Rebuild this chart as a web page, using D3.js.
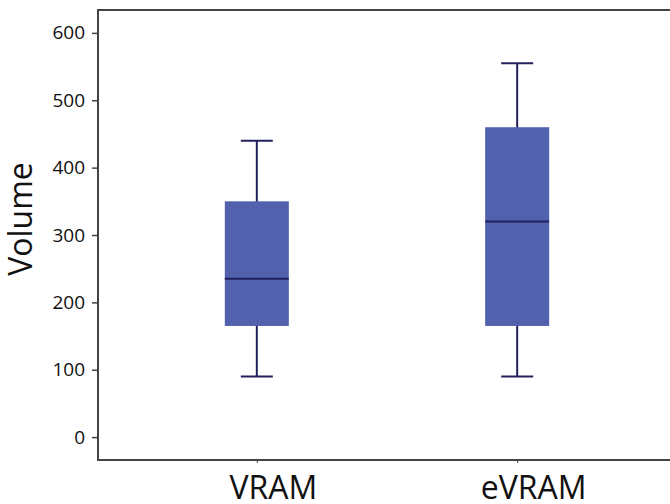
<!DOCTYPE html>
<html>
<head>
<meta charset="UTF-8">
<script src="https://d3js.org/d3.v7.min.js"></script>
<style>
body { margin: 0; background: #fff; }
svg { display: block; }
</style>
</head>
<body>
<script>
// box plot data
var groups = ["VRAM", "eVRAM"];
var whiskerLow = [90, 90];
var q1 = [165, 165];
var median = [235, 320];
var q3 = [350, 460];
var whiskerHigh = [440, 555];
var yTicks = [0, 100, 200, 300, 400, 500, 600];

var width = 670, height = 504;
var plotLeft = 98, plotTop = 10, plotBottom = 460;

var svg = d3.select("body").append("svg")
    .attr("width", width)
    .attr("height", height)
    .style("font-family", "'Open Sans', 'Noto Sans', sans-serif");

var y = d3.scaleLinear().domain([-34, 634]).range([plotBottom, plotTop]);
var x = d3.scalePoint().domain(groups).range([plotLeft, 676]).padding(0.61);

var boxW = 64, capW = 32;
var fill = "#5161ae", ink = "#22215e";

var boxes = svg.append("g").selectAll("g")
    .data(groups)
    .join("g");

// whisker stems
boxes.append("line")
    .attr("x1", d => x(d)).attr("x2", d => x(d))
    .attr("y1", (d, i) => y(whiskerLow[i]))
    .attr("y2", (d, i) => y(whiskerHigh[i]))
    .attr("stroke", ink).attr("stroke-width", 2);

// caps
[whiskerLow, whiskerHigh].forEach(function (arr) {
    boxes.append("line")
        .attr("x1", d => x(d) - capW / 2).attr("x2", d => x(d) + capW / 2)
        .attr("y1", (d, i) => y(arr[i])).attr("y2", (d, i) => y(arr[i]))
        .attr("stroke", ink).attr("stroke-width", 2);
});

boxes.append("rect")
    .attr("x", d => x(d) - boxW / 2)
    .attr("width", boxW)
    .attr("y", (d, i) => y(q3[i]))
    .attr("height", (d, i) => y(q1[i]) - y(q3[i]))
    .attr("fill", fill);

boxes.append("line")
    .attr("x1", d => x(d) - boxW / 2).attr("x2", d => x(d) + boxW / 2)
    .attr("y1", (d, i) => y(median[i])).attr("y2", (d, i) => y(median[i]))
    .attr("stroke", ink).attr("stroke-width", 2);

// axes
var yAxis = svg.append("g")
    .attr("transform", "translate(" + plotLeft + ",0)")
    .call(d3.axisLeft(y).tickValues(yTicks).tickSize(6).tickSizeOuter(0).tickPadding(7));
yAxis.select(".domain").remove();
yAxis.selectAll(".tick line").attr("stroke", "#444").attr("stroke-width", 1.5);
yAxis.selectAll("text").attr("font-size", 19).attr("fill", "#111")
    .attr("font-family", "'Open Sans', sans-serif");

var xAxis = svg.append("g")
    .attr("transform", "translate(0," + plotBottom + ")")
    .call(d3.axisBottom(x).tickSize(3).tickSizeOuter(0).tickPadding(4));
xAxis.select(".domain").remove();
xAxis.selectAll(".tick line").attr("stroke", "#444");
// category labels sit a little right of their ticks in the original
xAxis.selectAll("text").attr("font-size", 32).attr("fill", "#111")
    .attr("dx", 16).attr("dy", "1.0em")
    .attr("font-family", "'Open Sans', sans-serif");

// frame: left, top, bottom
svg.append("path")
    .attr("d", "M" + width + "," + plotTop + "H" + plotLeft + "V" + plotBottom + "H" + width)
    .attr("fill", "none")
    .attr("stroke", "#444")
    .attr("stroke-width", 2);

svg.append("text")
    .attr("transform", "translate(32,219) rotate(-90)")
    .attr("text-anchor", "middle")
    .attr("font-size", 32)
    .attr("fill", "#111")
    .text("Volume");
</script>
</body>
</html>
